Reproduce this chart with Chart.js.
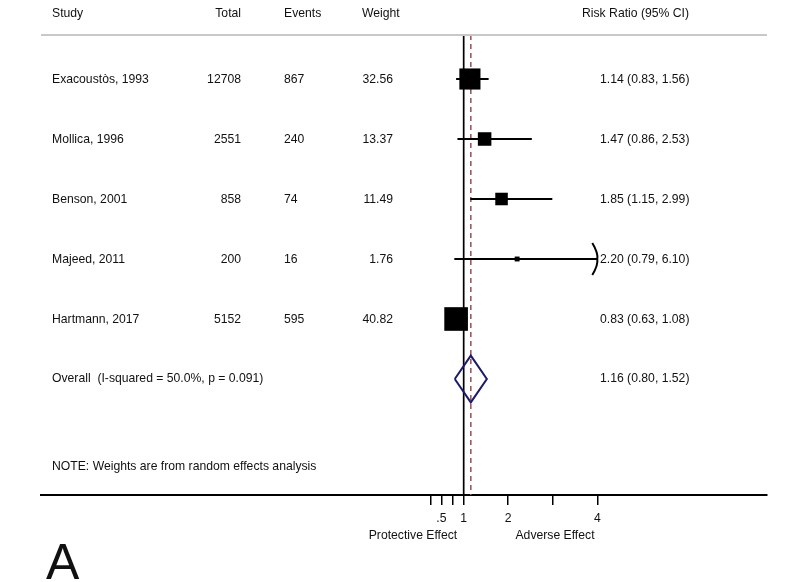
<!DOCTYPE html>
<html>
<head>
<meta charset="utf-8">
<script src="https://cdn.jsdelivr.net/npm/chart.js@4/dist/chart.umd.min.js"></script>
<style>
  html, body { margin: 0; padding: 0; background: #fff; }
  canvas { display: block; }
</style>
</head>
<body>
<canvas id="c" width="800" height="582"></canvas>
<script>
// ---- data ----
const studies = ["Exacoustòs, 1993", "Mollica, 1996", "Benson, 2001", "Majeed, 2011", "Hartmann, 2017"];
const totals  = [12708, 2551, 858, 200, 5152];
const events  = [867, 240, 74, 16, 595];
const weights = [32.56, 13.37, 11.49, 1.76, 40.82];
const rr      = [1.14, 1.47, 1.85, 2.20, 0.83];
const ciLow   = [0.83, 0.86, 1.15, 0.79, 0.63];
const ciHigh  = [1.56, 2.53, 2.99, 6.10, 1.08];
const overallLabel = "Overall  (I-squared = 50.0%, p = 0.091)";
const overall = { est: 1.16, low: 0.80, high: 1.52 };
const noteText = "NOTE: Weights are from random effects analysis";
const tickValues = [0.25, 0.5, 0.75, 1, 2, 3, 4];
const tickLabels = ["", ".5", "", "1", "2", "", "4"];
const axisCap = 4;
const headers = ["Study", "Total", "Events", "Weight", "Risk Ratio (95% CI)"];

// ---- derived ----
const FONT = '"Liberation Sans", Arial, Helvetica, sans-serif';
const nullRow = studies.length;           // overall row index
const fmt = v => v.toFixed(2);

const ciPoints = [];
studies.forEach((s, i) => {
  ciPoints.push({ x: ciLow[i], y: i });
  ciPoints.push({ x: Math.min(ciHigh[i], axisCap), y: i });
  ciPoints.push({ x: NaN, y: NaN });
});
const sqPoints = studies.map((s, i) => ({ x: rr[i], y: i }));
const DH = 0.39;
const diamond = [
  { x: overall.low, y: nullRow },
  { x: overall.est, y: nullRow - DH },
  { x: overall.high, y: nullRow },
  { x: overall.est, y: nullRow + DH },
  { x: overall.low, y: nullRow }
];
const Y_MIN = -0.7333, Y_MAX = 6.9333;

const textPlugin = {
  id: 'forestText',
  afterDraw(chart) {
    const ctx = chart.ctx;
    const xs = chart.scales.x, ys = chart.scales.y;
    const ca = chart.chartArea;
    ctx.save();
    // header separator
    ctx.strokeStyle = '#c8c8c8';
    ctx.lineWidth = 2;
    ctx.beginPath();
    ctx.moveTo(ca.left, ca.top);
    ctx.lineTo(ca.right, ca.top);
    ctx.stroke();

    ctx.fillStyle = '#111';
    ctx.font = '12.2px ' + FONT;
    ctx.textBaseline = 'middle';
    const hy = 14;
    ctx.textAlign = 'left';  ctx.fillText(headers[0], 52, hy);
    ctx.textAlign = 'right'; ctx.fillText(headers[1], 241, hy);
    ctx.textAlign = 'left';  ctx.fillText(headers[2], 284, hy);
    ctx.textAlign = 'left';  ctx.fillText(headers[3], 362, hy);
    ctx.textAlign = 'left';  ctx.fillText(headers[4], 582, hy);

    studies.forEach((s, i) => {
      const y = ys.getPixelForValue(i) + 1;
      ctx.textAlign = 'left';  ctx.fillText(s, 52, y);
      ctx.textAlign = 'right'; ctx.fillText(String(totals[i]), 241, y);
      ctx.textAlign = 'left';  ctx.fillText(String(events[i]), 284, y);
      ctx.textAlign = 'right'; ctx.fillText(fmt(weights[i]), 393, y);
      ctx.textAlign = 'left';  ctx.fillText(fmt(rr[i]) + ' (' + fmt(ciLow[i]) + ', ' + fmt(ciHigh[i]) + ')', 600, y);
    });
    const oy = ys.getPixelForValue(nullRow);
    ctx.textAlign = 'left'; ctx.fillText(overallLabel, 52, oy);
    ctx.fillText(fmt(overall.est) + ' (' + fmt(overall.low) + ', ' + fmt(overall.high) + ')', 600, oy);
    ctx.fillText(noteText, 52, 467);

    // arrows for truncated CIs
    ctx.strokeStyle = '#000';
    ctx.lineWidth = 2;
    studies.forEach((s, i) => {
      if (ciHigh[i] > axisCap) {
        const x = xs.getPixelForValue(axisCap), y = ys.getPixelForValue(i);
        ctx.beginPath();
        ctx.moveTo(x - 5, y - 16);
        ctx.quadraticCurveTo(x + 1, y - 6, x, y);
        ctx.quadraticCurveTo(x + 1, y + 6, x - 5, y + 16);
        ctx.stroke();
      }
    });

    // effect labels
    ctx.textAlign = 'center';
    ctx.fillText('Protective Effect', 413, 536);
    ctx.fillText('Adverse Effect', 555, 536);

    // panel letter
    ctx.font = '50px ' + FONT;
    ctx.textAlign = 'left';
    ctx.textBaseline = 'alphabetic';
    ctx.fillText('A', 46, 579);
    ctx.restore();
  }
};

new Chart(document.getElementById('c'), {
  type: 'scatter',
  data: {
    datasets: [
      { // null line at 1
        data: [{ x: 1, y: Y_MIN }, { x: 1, y: Y_MAX }],
        showLine: true, borderColor: '#000', borderWidth: 1.7, pointRadius: 0, order: 6
      },
      { // overall estimate dashed line
        data: [{ x: overall.est, y: Y_MIN }, { x: overall.est, y: Y_MAX }],
        showLine: true, borderColor: '#9c5a5e', borderWidth: 1.6, borderDash: [5, 4], pointRadius: 0, order: 5
      },
      { // confidence intervals
        data: ciPoints, showLine: true, spanGaps: false, borderColor: '#000', borderWidth: 2,
        pointRadius: 0, order: 4
      },
      { // study squares
        data: sqPoints, pointStyle: 'rect', backgroundColor: '#000', borderWidth: 0,
        pointRadius: ctx => 3.7 * Math.sqrt(weights[ctx.dataIndex] || 0) / Math.SQRT2,
        order: 3
      },
      { // overall diamond
        data: diamond, showLine: true, borderColor: '#1b1b6b', borderWidth: 2,
        borderJoinStyle: 'miter', pointRadius: 0, fill: false, tension: 0, order: 2
      }
    ]
  },
  options: {
    responsive: false,
    animation: false,
    layout: { padding: { left: 41, right: 33, top: 35, bottom: 0 } },
    plugins: { legend: { display: false }, tooltip: { enabled: false } },
    scales: {
      x: {
        type: 'linear', min: -8.49, max: 7.81,
        afterBuildTicks: s => { s.ticks = tickValues.map(v => ({ value: v })); },
        afterFit: s => { s.height = 87; },
        ticks: {
          autoSkip: false, maxRotation: 0, padding: 6, color: '#111',
          font: { family: FONT, size: 12.2 },
          callback: (v) => { const k = tickValues.indexOf(v); return k >= 0 ? tickLabels[k] : ''; }
        },
        grid: { drawOnChartArea: false, drawTicks: true, tickLength: 10, color: '#000', lineWidth: 1.5 },
        border: { display: true, color: '#000', width: 2 }
      },
      y: {
        type: 'linear', reverse: true, min: Y_MIN, max: Y_MAX, display: false
      }
    }
  },
  plugins: [textPlugin]
});
</script>
</body>
</html>
